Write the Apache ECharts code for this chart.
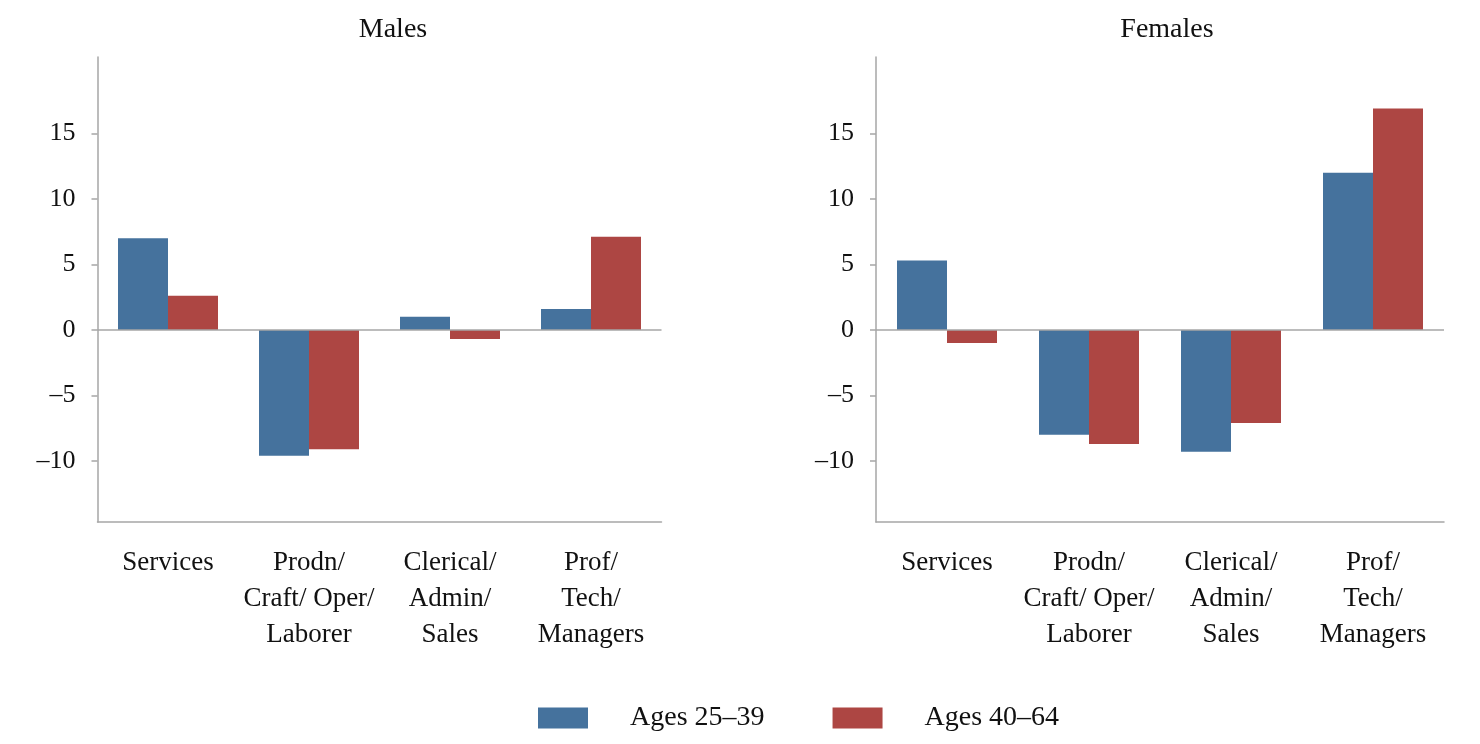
<!DOCTYPE html>
<html>
<head>
<meta charset="utf-8">
<script src="https://cdn.jsdelivr.net/npm/echarts@6/dist/echarts.min.js"></script>
<style>
html,body{margin:0;padding:0;background:#fff;}
#chart{width:1480px;height:744px;}
</style>
</head>
<body>
<div id="chart"></div>
<script>
const categories = ['Services', 'Prodn/\nCraft/ Oper/\nLaborer', 'Clerical/\nAdmin/\nSales', 'Prof/\nTech/\nManagers'];
const panelTitles = ['Males', 'Females'];
const seriesNames = ['Ages 25\u201339', 'Ages 40\u201364'];
const males2539 = [7.0, -9.6, 1.0, 1.6];
const males4064 = [2.6, -9.1, -0.7, 7.1];
const females2539 = [5.3, -8.0, -9.3, 12.0];
const females4064 = [-1.0, -8.7, -7.1, 16.9];
const yTicks = [-10, -5, 0, 5, 10, 15];

const FONT = '"Liberation Serif", "DejaVu Serif", serif';
const BLUE = '#45729D';
const RED = '#AD4643';
const AXIS = '#a6a6a6';

const grids = [
  {left: 97.5, top: 57, width: 564, height: 465},
  {left: 876, top: 57, width: 568, height: 465}
];

function xAx(i) {
  return {
    type: 'category', gridIndex: i, data: categories,
    axisLine: {onZero: false, lineStyle: {color: AXIS, width: 1.5}},
    axisTick: {show: false},
    axisLabel: {color: '#111', fontFamily: FONT, fontSize: 27, lineHeight: 36, margin: 23, interval: 0}
  };
}
function yAx(i) {
  return {
    type: 'value', gridIndex: i, min: -14.65, max: 20.82,
    splitLine: {show: false},
    axisLine: {show: true, lineStyle: {color: AXIS, width: 1.5}},
    axisTick: {show: true, length: 6, customValues: yTicks, lineStyle: {color: AXIS, width: 1.5}},
    axisLabel: {customValues: yTicks, color: '#111', fontFamily: FONT, fontSize: 26, margin: 22,
      formatter: v => (v < 0 ? '\u2013' + Math.abs(v) : String(v))}
  };
}
function bar(name, data, color, i, withZero) {
  const s = {
    name: name, type: 'bar', xAxisIndex: i, yAxisIndex: i, data: data,
    barWidth: 50, barGap: '0%',
    itemStyle: {color: color},
    emphasis: {disabled: true}
  };
  if (withZero) {
    s.markLine = {
      silent: true, symbol: ['none', 'none'], label: {show: false},
      lineStyle: {color: AXIS, width: 1.5, type: 'solid'},
      data: [{yAxis: 0}]
    };
  }
  return s;
}

const chart = echarts.init(document.getElementById('chart'));
chart.setOption({
  animation: false,
  backgroundColor: '#fff',
  title: [
    {text: panelTitles[0], left: 388, top: 11, textAlign: 'center',
      textStyle: {fontFamily: FONT, fontSize: 28, fontWeight: 'normal', color: '#111'}},
    {text: panelTitles[1], left: 1162, top: 11, textAlign: 'center',
      textStyle: {fontFamily: FONT, fontSize: 28, fontWeight: 'normal', color: '#111'}}
  ],
  legend: {
    data: seriesNames, left: 533, top: 698, itemWidth: 50, itemHeight: 21, itemGap: 68,
    icon: 'rect',
    textStyle: {fontFamily: FONT, fontSize: 28, color: '#111', padding: [0, 0, 0, 37], lineHeight: 30}
  },
  grid: grids,
  xAxis: [xAx(0), xAx(1)],
  yAxis: [yAx(0), yAx(1)],
  series: [
    bar(seriesNames[0], males2539, BLUE, 0, true),
    bar(seriesNames[1], males4064, RED, 0, false),
    bar(seriesNames[0], females2539, BLUE, 1, true),
    bar(seriesNames[1], females4064, RED, 1, false)
  ]
});
</script>
</body>
</html>
